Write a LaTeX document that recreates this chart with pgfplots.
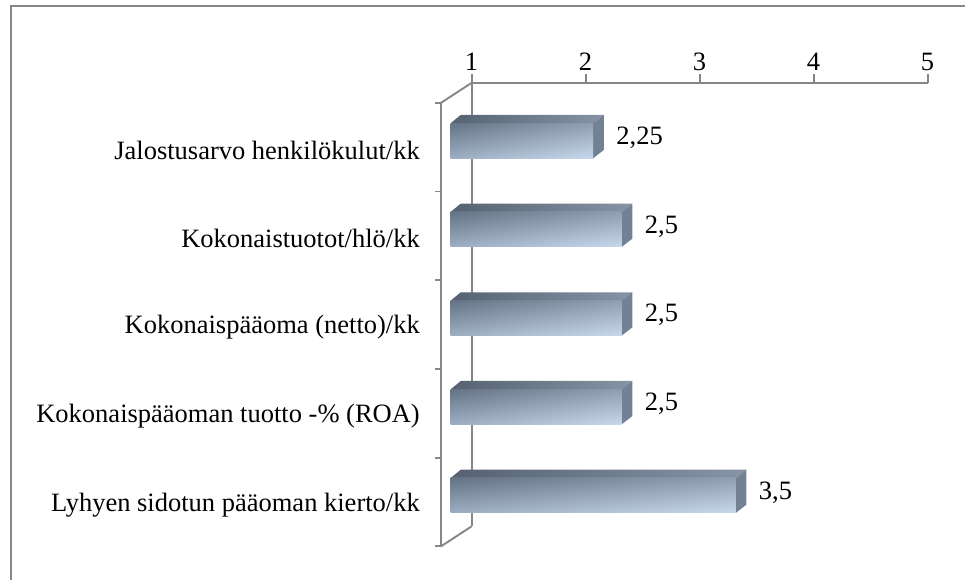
\documentclass[border=0pt]{standalone}
\usepackage{pgfplots}
\pgfplotsset{compat=1.18}
\usepackage{pgfplotstable}
\usepackage{fontspec}
\setmainfont{Liberation Serif}
\definecolor{axgray}{RGB}{134,134,134}
\definecolor{frontA}{RGB}{122,139,162}
\definecolor{frontB}{RGB}{190,209,234}
\definecolor{topA}{RGB}{86,98,113}
\definecolor{topB}{RGB}{135,148,166}
\definecolor{sideC}{RGB}{115,129,148}
\newcommand\lblfont{\fontsize{26.5}{30}\selectfont}

\pgfplotstableread{
idx value label
4 2.25 2,25
3 2.5 2,5
2 2.5 2,5
1 2.5 2,5
0 3.5 3,5
}\data

\begin{document}
\begin{tikzpicture}
% outer frame (right and bottom edges lie outside the picture)
\draw[axgray, line width=2pt] (10.5pt,573.5pt) rectangle (1100pt,-100pt);

% back wall with value axis
\begin{axis}[name=back, at={(471.6pt,53.65pt)}, anchor=south west,
  x=114pt, y=88.7pt, xmin=1, xmax=5, ymin=-0.5, ymax=4.5,
  axis x line*=top, axis y line*=left,
  xtick={1,2,3,4,5}, ytick=\empty,
  tick align=outside, major tick length=9pt,
  axis line style={axgray, line width=1.9pt},
  x tick style={axgray, line width=1.9pt},
  xticklabel style={font=\lblfont, text=black},
  /pgf/number format/assume math mode=true,
]
\addplot[draw=none] coordinates {(1,0)};
\end{axis}

% front plane with category labels
\begin{axis}[name=front, at={(441pt,33.65pt)}, anchor=south west,
  x=114pt, y=88.7pt, xmin=1, xmax=5, ymin=-0.5, ymax=4.5,
  axis x line=none, axis y line*=left,
  ytick={0,1,2,3,4},
  yticklabels={Lyhyen sidotun pääoman kierto/kk, Kokonaispääoman tuotto -\% (ROA), Kokonaispääoma (netto)/kk, Kokonaistuotot/hlö/kk, Jalostusarvo henkilökulut/kk},
  minor ytick={-0.5,0.5,1.5,2.5,3.5,4.5},
  tick align=outside, major tick length=0pt, minor tick length=6pt,
  axis line style={axgray, line width=1.9pt},
  y tick style={axgray, line width=1.9pt},
  yticklabel style={font=\lblfont, text=black, inner sep=0pt, xshift=-21pt, yshift=-3pt},
]
\addplot[draw=none] coordinates {(1,0)};
\end{axis}
\draw[axgray, line width=1.9pt] (front.north west) -- (back.north west)
  (front.south west) -- (back.south west);

% bars (front face coordinates, value-1 along x)
\begin{axis}[at={(450.7pt,40.15pt)}, anchor=south west,
  x=114pt, y=88.7pt, xmin=0, xmax=4, ymin=-0.5, ymax=4.5,
  axis lines=none, clip=false]
\pgfplotsinvokeforeach{0,...,4}{%
  \pgfplotstablegetelem{#1}{value}\of\data
  \pgfmathsetmacro\V{\pgfplotsretval-1}%
  \pgfplotstablegetelem{#1}{idx}\of\data
  \pgfmathsetmacro\K{\pgfplotsretval}%
  \pgfmathsetmacro\Yb{\K+0.1973}%
  \pgfmathsetmacro\Yt{\K+0.1973+0.0936}%
  \pgfmathsetmacro\Ybot{\K-0.1973}%
  \pgfmathsetmacro\Ybt{\K-0.1973+0.0936}%
  \pgfmathsetmacro\Vd{\V+0.094}%
  \edef\tmp{\noexpand\addplot[draw=none, left color=topA, right color=topB]
     coordinates {(0,\Yb) (\V,\Yb) (\Vd,\Yt) (0.088,\Yt)};
     \noexpand\addplot[draw=none, fill=sideC]
     coordinates {(\V,\Ybot) (\V,\Yb) (\Vd,\Yt) (\Vd,\Ybt)};
     \noexpand\addplot[draw=none, top color=frontA, bottom color=frontB]
     coordinates {(0,\Ybot) (\V,\Ybot) (\V,\Yb) (0,\Yb)};
     \noexpand\addplot[draw=none, left color=black, right color=white, fill opacity=0.17]
     coordinates {(0,\Ybot) (\V,\Ybot) (\V,\Yb) (0,\Yb)};}%
  \tmp
}
\addplot[draw=none, mark=none, nodes near coords, point meta=explicit symbolic,
  every node near coord/.append style={anchor=west, inner sep=0pt, xshift=23pt, yshift=3pt, font=\lblfont, text=black, fill opacity=1}]
  table[x expr=\thisrow{value}-1, y=idx, meta=label] {\data};
\end{axis}
\pgfresetboundingbox
\useasboundingbox (0,0) rectangle (965pt,580pt);
\end{tikzpicture}
\end{document}
